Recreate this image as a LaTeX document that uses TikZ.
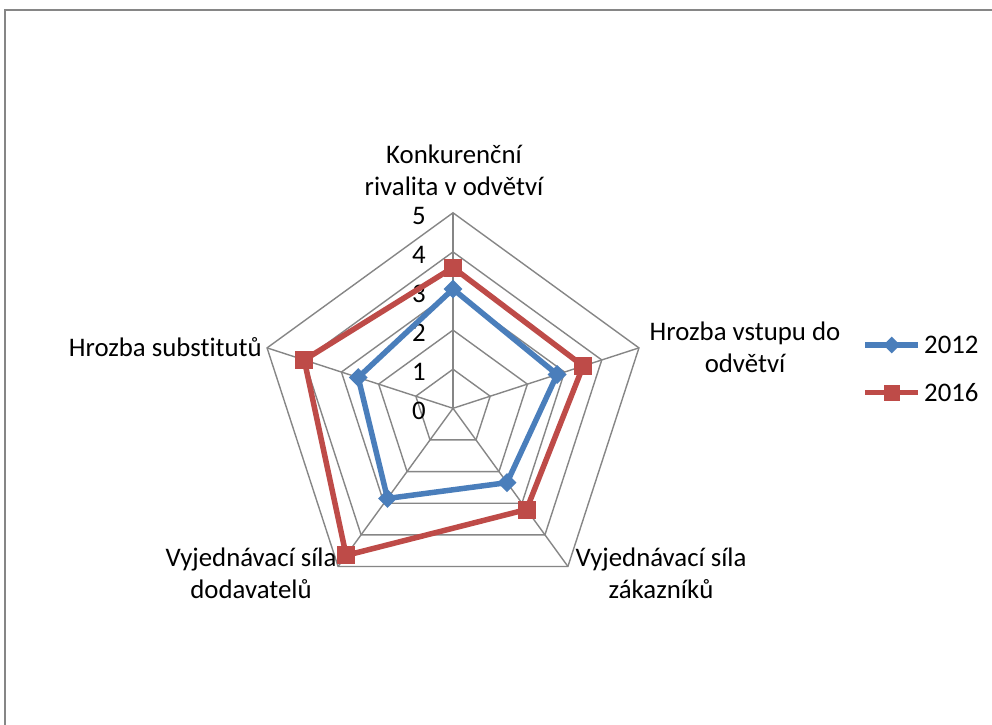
\documentclass[tikz,border=0pt]{standalone}
\usepackage{fontspec}
\setmainfont[Ligatures=NoCommon]{Carlito}
\usetikzlibrary{shapes.geometric}
\definecolor{gridgray}{HTML}{868686}
\definecolor{serblue}{HTML}{4A7EBB}
\definecolor{serred}{HTML}{BE4B48}
\begin{document}
\begin{tikzpicture}[x=1pt,y=1pt,
  gridline/.style={draw=gridgray, line width=1.4pt},
  series/.style={line width=5.5pt, line join=round},
  diam/.style={diamond, fill=serblue, inner sep=0pt, minimum width=19pt, minimum height=19pt},
  sq/.style={rectangle, fill=serred, inner sep=0pt, minimum size=18pt},
  lbl/.style={font=\fontsize{26.8}{32}\selectfont, align=center, inner sep=0pt},
  ticklbl/.style={font=\fontsize{26.8}{32}\selectfont, inner sep=0pt}]
\useasboundingbox (0,0) rectangle (992,724);
\clip (0,0) rectangle (992,724);
\fill[white] (0,0) rectangle (992,724);
% chart area frame
\draw[gridgray, line width=2pt] (1000,714) -- (5,714) -- (5,-10);

\begin{scope}[shift={(453,315.7)}]
  \def\u{39.1}
  % pentagonal grid
  \foreach \v in {1,...,5}
    \draw[gridline] (90:{\v*\u}) -- (18:{\v*\u}) -- (-54:{\v*\u}) -- (-126:{\v*\u}) -- (162:{\v*\u}) -- cycle;
  \coordinate (O) at (0,0);
  \foreach \a/\n in {90/k,18/v,-54/z,-126/d,162/s}
    \coordinate (ax\n) at (\a:{5*\u});
  \foreach \n in {k,v,z,d,s}
    \draw[gridline] (O) -- (ax\n);

  % axis values
  \foreach \v in {0,...,5}
    \node[ticklbl] (t\v) at (-34,{\v*\u-3}) {\v};

  % data points
  \coordinate (ak) at (90:{3.05*\u});
  \coordinate (av) at (18:{2.8*\u});
  \coordinate (az) at (-54:{2.35*\u});
  \coordinate (ad) at (-126:{2.85*\u});
  \coordinate (as) at (162:{2.55*\u});
  \coordinate (bk) at (90:{3.6*\u});
  \coordinate (bv) at (18:{3.5*\u});
  \coordinate (bz) at (-54:{3.2*\u});
  \coordinate (bd) at (-126:{4.65*\u});
  \coordinate (bs) at (162:{4.0*\u});

  % series 2012
  \draw[series, serblue] (ak) -- (av) -- (az) -- (ad) -- (as) -- cycle;
  \foreach \n in {k,v,z,d,s} \node[diam] (ma\n) at (a\n) {};
  % series 2016
  \draw[series, serred] (bk) -- (bv) -- (bz) -- (bd) -- (bs) -- cycle;
  \foreach \n in {k,v,z,d,s} \node[sq] (mb\n) at (b\n) {};

  % category labels
  \node[lbl] (lk) at (1,238.3) {Konkurenční\\rivalita v odvětví};
  \node[lbl] (lv) at (292,61) {Hrozba vstupu do\\odvětví};
  \node[lbl] (lz) at (208,-165.2) {Vyjednávací síla\\zákazníků};
  \node[lbl] (ld) at (-202,-165.2) {Vyjednávací síla\\dodavatelů};
  \node[lbl, anchor=east] (ls) at (-191,61.3) {Hrozba substitutů};
\end{scope}

% legend
\coordinate (la1) at (865,379);
\coordinate (lb1) at (918,379);
\coordinate (la2) at (865,331.3);
\coordinate (lb2) at (918,331.3);
\draw[series, serblue] (la1) -- (lb1);
\node[diam, minimum width=17pt, minimum height=17pt] (lgm1) at (891.7,379) {};
\node[ticklbl, anchor=west] (lgt1) at (924,379) {2012};
\draw[series, serred] (la2) -- (lb2);
\node[sq, minimum size=16pt] (lgm2) at (891.7,331.3) {};
\node[ticklbl, anchor=west] (lgt2) at (924,331.3) {2016};
\end{tikzpicture}
\end{document}
